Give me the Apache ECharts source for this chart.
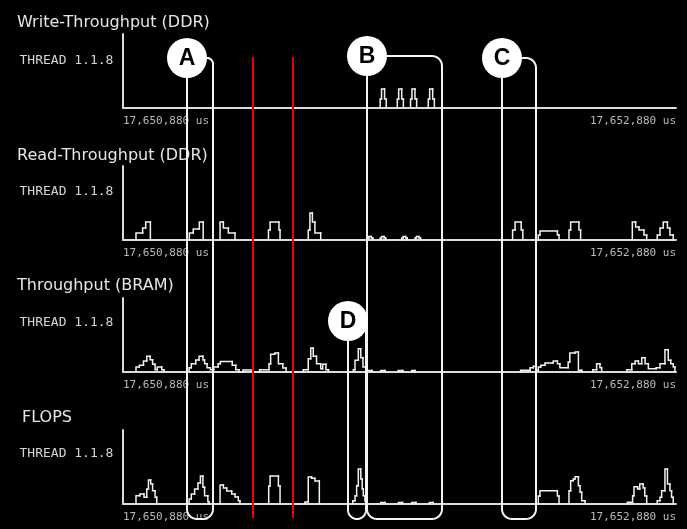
<!DOCTYPE html>
<html><head><meta charset="utf-8">
<script src="https://cdn.jsdelivr.net/npm/echarts@6/dist/echarts.min.js"></script>
<style>html,body{margin:0;padding:0;background:#000;}#c{width:687px;height:529px;}</style>
</head><body><div id="c"></div>
<script>
// time axis: microseconds after 17,650,880 us
const timeRange = [0, 2000];
const tickLabels = ['17,650,880 us', '17,652,880 us'];
const panelTitles = ['Write-Throughput (DDR)', 'Read-Throughput (DDR)', 'Throughput (BRAM)', 'FLOPS'];
const threadLabel = 'THREAD 1.1.8';

// [time (us), throughput] – value holds until the next point
const writeDDR = [
  [0,0],
  [930,9],[935,19],[946,9],[952,0],
  [992,9],[997,19],[1008,9],[1014,0],
  [1040,9],[1045,19],[1056,9],[1062,0],
  [1104,9],[1109,19],[1120,9],[1126,0],
  [2000,0]
];
const readDDR = [
  [0,0],
  [47,7],[71,12],[82,18],[99,0],
  [240,7],[254,11],[276,18],[290,0],
  [351,18],[363,12],[381,7],[405,0],
  [526,10],[532,18],[564,10],[568,0],
  [670,10],[676,27],[685,18],[694,7],[715,0],
  [884,2],[889,3.5],[898,2],[904,0],
  [930,2],[935,3.5],[944,2],[950,0],
  [1008,2],[1013,3.5],[1022,2],[1028,0],
  [1056,2],[1061,3.5],[1070,2],[1076,0],
  [1409,10],[1418,18],[1440,10],[1446,0],
  [1502,5],[1508,9],[1571,5],[1577,0],
  [1613,10],[1619,18],[1649,10],[1655,0],
  [1842,18],[1854,13],[1866,10],[1884,5],[1894,0],
  [1932,5],[1942,12],[1954,18],[1969,12],[1978,5],[1990,0],
  [2000,0]
];
const bram = [
  [0,0],
  [47,5],[59,6.7],[74,11],[86,15.7],[98,12.3],[107,7.7],[116,2.3],[124,5],[140,2.3],[148,0],
  [239,4.3],[247,8.3],[263,12],[275,15.7],[289,12],[295,8.3],[304,4.3],[316,2.3],[328,5],[344,8.3],[352,10.5],[395,6.7],[408,2.3],[420,0],
  [434,2],[470,0],
  [494,2.3],[528,8.3],[534,17.7],[549,19],[562,8.3],[578,4],[590,0],
  [652,2.3],[670,13.3],[679,24],[688,15.7],[700,8.3],[715,3.3],[722,7.7],[734,2.3],[743,0],
  [833,2.3],[839,11.7],[851,23.3],[860,14.3],[868,5],[879,1.5],[901,0],
  [932,1.5],[948,0],[995,1.5],[1012,0],[1044,1.5],[1056,0],
  [1438,1.7],[1472,4.3],[1484,5.7],[1494,1.7],[1502,5],[1511,6.7],[1526,9],[1556,11],[1571,8.3],[1580,4.3],[1610,10],[1616,19],[1635,20],[1647,1.7],[1659,0],
  [1699,2.3],[1713,8.3],[1725,4.3],[1731,0],
  [1822,2.3],[1840,8.3],[1852,11],[1864,8.3],[1876,14.3],[1888,8.3],[1900,3.3],[1928,4.3],[1942,8.3],[1960,22.3],[1972,11.7],[1981,8.3],[1990,5],[1996,0],
  [2000,0]
];
const flops = [
  [0,0],
  [47,8.3],[61,10],[76,6.7],[86,15],[92,24],[100,20],[107,13.3],[116,6.7],[122,0],
  [239,5],[247,10],[259,15],[271,21],[280,28],[289,16.7],[295,8.3],[307,2.3],[311,0],
  [351,19],[363,16],[375,13],[393,10],[405,7],[417,3.3],[423,0],
  [527,18],[532,28],[562,18],[568,0],
  [658,2],[670,27],[682,25.7],[694,23],[710,0],
  [831,3.3],[839,8.3],[845,18.3],[851,35],[860,25],[865,15],[869,8.3],[875,3],[881,0],
  [932,1.5],[948,0],[996,1.5],[1011,0],[1044,1.5],[1060,0],[1108,1.5],[1122,0],
  [1502,8],[1508,13.3],[1571,8],[1577,0],
  [1613,13.3],[1619,23.3],[1628,25],[1635,27.3],[1647,18.3],[1653,11.7],[1659,3.3],[1671,0],
  [1824,1.7],[1843,8.3],[1848,17.3],[1861,15],[1869,20],[1881,16],[1887,8],[1894,0],
  [1932,3.3],[1942,6.7],[1948,13.3],[1960,35],[1969,20],[1978,13.3],[1984,6.7],[1990,0],
  [2000,0]
];
const panelSeries = [writeDDR, readDDR, bram, flops];

// red time markers (us)
const markerTimes = [471, 616];
// annotated time windows (us)
const calloutNames = ['A', 'B', 'C', 'D'];
const calloutStart = [231, 884, 1371, 814];
const calloutEnd = [325, 1154, 1494, 879];

// ---- layout (pixels) ----
const gridTops = [34, 166, 298, 430];
const gridH = 74;
const titleX = [17, 17, 17, 22];
const titleY = [23.3, 155.5, 286, 418.3];
const threadY = [60.5, 191.7, 323, 454];
const circleY = [58, 56, 58, 321];
const circleR = 20;
const bracketBottom = 519;
const markerTop = 57, markerBottom = 518;

const axisColor = '#dcdcdc';
const traceColor = '#f2f2f2';
const chart = echarts.init(document.getElementById('c'), null, {renderer: 'canvas'});

// each step: [start time, end time, value, previous value]
function toSteps(d) {
  const out = [];
  for (let k = 1; k < d.length; k++) {
    const v = d[k][1], pv = d[k - 1][1];
    if (v === 0 && pv === 0) continue;
    const tEnd = k + 1 < d.length ? d[k + 1][0] : d[k][0];
    out.push([d[k][0], tEnd, v, pv]);
  }
  return out;
}

function renderStep(params, api) {
  const t0 = api.value(0), t1 = api.value(1), v = api.value(2), pv = api.value(3);
  const a = api.coord([t0, pv]), b = api.coord([t0, v]), c = api.coord([t1, v]);
  const pts = v === 0 ? [a, b] : [a, b, c];
  return {type: 'polyline', silent: true, shape: {points: pts},
    style: {stroke: traceColor, lineWidth: 1.5, fill: null, lineCap: 'square', lineJoin: 'miter'}};
}

const grids = [], xAxes = [], yAxes = [], series = [];
panelSeries.forEach((d, i) => {
  grids.push({left: 123, right: 11, top: gridTops[i], height: gridH, containLabel: false, outerBoundsMode: 'none'});
  xAxes.push({
    type: 'value', gridIndex: i, min: timeRange[0], max: timeRange[1], interval: timeRange[1] - timeRange[0],
    axisLine: {show: true, onZero: false, lineStyle: {color: axisColor, width: 2}},
    axisTick: {show: false}, splitLine: {show: false},
    axisLabel: {
      show: true, showMinLabel: true, showMaxLabel: true, alignMinLabel: 'left', alignMaxLabel: 'right',
      margin: 8, color: '#bbbbbb', fontFamily: 'DejaVu Sans Mono', fontSize: 11,
      formatter: v => (v === timeRange[0] ? tickLabels[0] : tickLabels[1])
    }
  });
  yAxes.push({
    type: 'value', gridIndex: i, min: 0, max: gridH,
    axisLine: {show: true, onZero: false, lineStyle: {color: axisColor, width: 2}},
    axisTick: {show: false}, axisLabel: {show: false}, splitLine: {show: false}
  });
  series.push({
    type: 'custom', xAxisIndex: i, yAxisIndex: i, data: toSteps(d),
    dimensions: ['start', 'end', 'value', 'prev'],
    encode: {x: [0, 1], y: [2, 3]},
    renderItem: renderStep, animation: false, silent: true, z: 5
  });
});

const textEls = [];
panelTitles.forEach((t, i) => {
  textEls.push({type: 'text', x: titleX[i], y: titleY[i], z: 50,
    style: {text: t, fill: '#e6e6e6', font: '16px "DejaVu Sans"', align: 'left', verticalAlign: 'middle'}});
  textEls.push({type: 'text', x: 19.5, y: threadY[i], z: 50,
    style: {text: threadLabel, fill: '#d4d4d4', font: '13px "DejaVu Sans Mono"', align: 'left', verticalAlign: 'middle'}});
});

chart.setOption({
  backgroundColor: '#000',
  animation: false,
  grid: grids, xAxis: xAxes, yAxis: yAxes, series: series
});

function px(t) { return Math.round(chart.convertToPixel({xAxisIndex: 0}, t)); }
function arcPts(cx, cy, r, a0, a1) {
  const pts = [];
  const n = 10;
  for (let k = 0; k <= n; k++) {
    const a = (a0 + (a1 - a0) * k / n) * Math.PI / 180;
    pts.push([cx + r * Math.cos(a), cy + r * Math.sin(a)]);
  }
  return pts;
}
function bracketPoints(L, R, cy, B) {
  const rt = Math.max(6, Math.min(10, R - L - 20));
  const rb = Math.min(10, (R - L) / 2);
  let pts = [[L, cy]];
  pts = pts.concat(arcPts(R - rt, cy + rt, rt, -90, 0));
  pts = pts.concat(arcPts(R - rb, B - rb, rb, 0, 90));
  pts = pts.concat(arcPts(L + rb, B - rb, rb, 90, 180));
  pts.push([L, cy]);
  return pts;
}

const extra = [];
markerTimes.forEach(t => {
  const x = px(t);
  extra.push({type: 'line', z: 90, shape: {x1: x, y1: markerTop, x2: x, y2: markerBottom},
    style: {stroke: '#ee0000', lineWidth: 2}});
});
calloutNames.forEach((n, i) => {
  const L = px(calloutStart[i]), R = px(calloutEnd[i]);
  extra.push({type: 'polyline', z: 95, shape: {points: bracketPoints(L, R, circleY[i], bracketBottom)},
    style: {stroke: '#f4f4f4', fill: null, lineWidth: 2}});
});
calloutNames.forEach((n, i) => {
  const L = px(calloutStart[i]);
  extra.push({type: 'circle', z: 100, shape: {cx: L, cy: circleY[i], r: circleR}, style: {fill: '#ffffff'}});
  extra.push({type: 'text', z: 101, x: L, y: circleY[i] + 0.5,
    style: {text: n, fill: '#000', font: 'bold 23px "Liberation Sans", Arial, sans-serif', align: 'center', verticalAlign: 'middle'}});
});

chart.setOption({graphic: textEls.concat(extra)});
</script>
</body></html>
